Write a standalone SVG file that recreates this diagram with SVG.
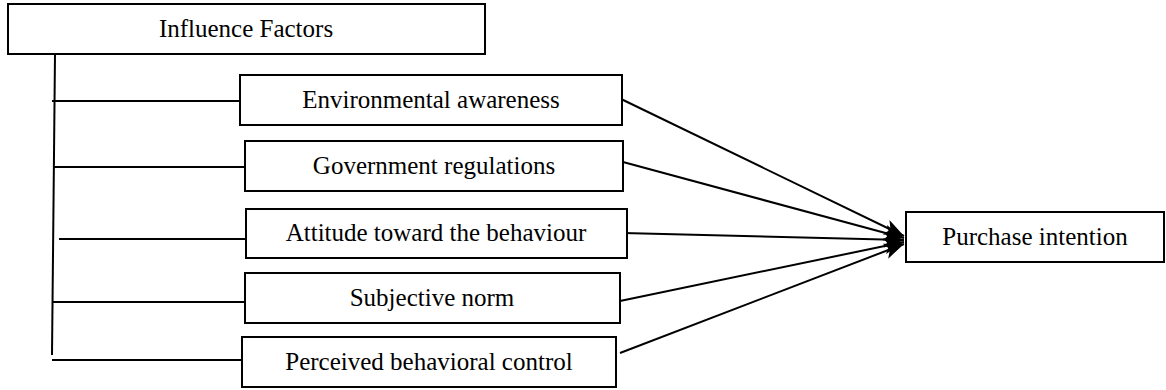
<svg xmlns="http://www.w3.org/2000/svg" width="1166" height="390" viewBox="0 0 1166 390">
<style>
.box{fill:#fff;stroke:#000;stroke-width:2}
.t{font-family:'Liberation Serif','DejaVu Serif','Times New Roman',serif;font-size:25px;fill:#000;text-anchor:middle}
.ln{stroke:#000;stroke-width:2;fill:none}
</style>
<defs>
<marker id="ah" markerUnits="userSpaceOnUse" markerWidth="22" markerHeight="16" refX="20" refY="8" orient="auto">
<path d="M0,0 L20,8 L0,16 L5,8 Z" fill="#000"/>
</marker>
</defs>
<rect width="1166" height="390" fill="#fff"/>
<g id="connectors">
<path class="ln" d="M55,54 L52,355"/>
<path class="ln" d="M52,101 L240,101"/>
<path class="ln" d="M54,167 L245,167"/>
<path class="ln" d="M59,239 L246,239"/>
<path class="ln" d="M53,302 L245,302"/>
<path class="ln" d="M52,360 L242,360"/>
<path class="ln" d="M619,98 L904,236" marker-end="url(#ah)"/>
<path class="ln" d="M623,162 L904,238" marker-end="url(#ah)"/>
<path class="ln" d="M623,233 L904,240" marker-end="url(#ah)"/>
<path class="ln" d="M620,301 L904,242" marker-end="url(#ah)"/>
<path class="ln" d="M620,353 L904,244" marker-end="url(#ah)"/>
</g>
<g id="influence">
<rect class="box" x="8" y="4" width="477" height="50"/>
<text class="t" x="246" y="37" font-family="Liberation Serif, serif">Influence Factors</text>
</g>
<g id="env">
<rect class="box" x="240" y="75" width="382" height="50"/>
<text class="t" x="431" y="108" font-family="Liberation Serif, serif">Environmental awareness</text>
</g>
<g id="gov">
<rect class="box" x="245" y="141" width="378" height="50"/>
<text class="t" x="434" y="174" font-family="Liberation Serif, serif">Government regulations</text>
</g>
<g id="attitude">
<rect class="box" x="246" y="209" width="381" height="49"/>
<text class="t" x="436" y="241" font-family="Liberation Serif, serif">Attitude toward the behaviour</text>
</g>
<g id="subjective">
<rect class="box" x="245" y="273" width="375" height="50"/>
<text class="t" x="432" y="306" font-family="Liberation Serif, serif">Subjective norm</text>
</g>
<g id="perceived">
<rect class="box" x="242" y="337" width="374" height="50"/>
<text class="t" x="429" y="370" font-family="Liberation Serif, serif">Perceived behavioral control</text>
</g>
<g id="purchase">
<rect class="box" x="906" y="212" width="258" height="50"/>
<text class="t" x="1035" y="245" font-family="Liberation Serif, serif">Purchase intention</text>
</g>
</svg>
